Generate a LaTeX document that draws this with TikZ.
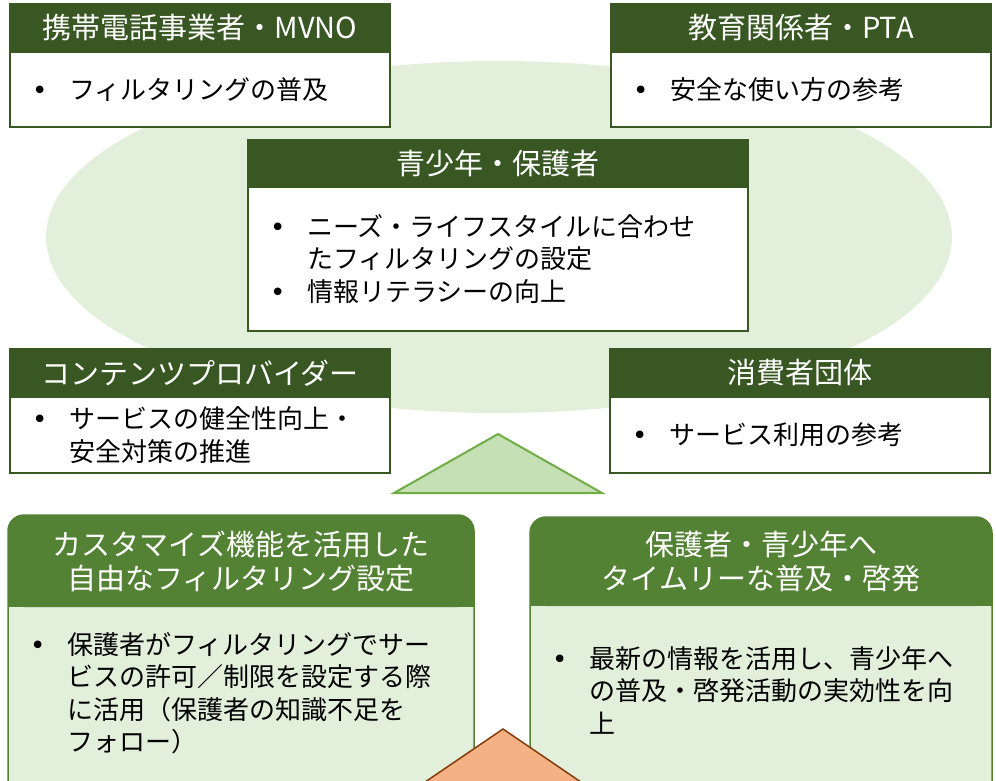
\documentclass[tikz,border=0pt]{standalone}
\usepackage{fontspec}
\setmainfont{Noto Sans CJK JP}
\newfontfamily\bulfont{DejaVu Sans}
\usetikzlibrary{positioning}

\definecolor{hdrdark}{HTML}{385723}
\definecolor{hdrmid}{HTML}{548235}
\definecolor{paleg}{HTML}{E2EFDA}
\definecolor{trifill}{HTML}{C5E0B4}
\definecolor{triline}{HTML}{70AD47}
\definecolor{orfill}{HTML}{F4B183}
\definecolor{orline}{HTML}{843C0C}

\newcommand{\hdrfont}{\fontsize{29pt}{34pt}\selectfont}
\newcommand{\txtfont}{\fontsize{26pt}{32.5pt}\selectfont}
\newcommand{\itm}{\makebox[38pt][l]{\hspace*{1pt}{\bulfont •}}}
\newcommand{\cnt}{\hspace*{38pt}}

\tikzset{
  hdr/.style={fill=hdrdark, draw=hdrdark, line width=1.5pt, text=white, font=\hdrfont,
    inner sep=0pt, outer sep=0pt, minimum height=48pt},
  bodybox/.style={fill=white, draw=hdrdark, line width=1.5pt, font=\txtfont, align=left,
    inner xsep=21pt, inner ysep=0pt, outer sep=0pt},
  lowbox/.style={fill=paleg, draw=hdrmid, line width=1.5pt, rounded corners=16pt,
    inner sep=0pt, outer sep=0pt},
  lowhdr/.style={fill=hdrmid, rounded corners=16pt, text=white, font=\hdrfont, align=center,
    inner sep=0pt, outer sep=0pt},
  lowtxt/.style={font=\txtfont, align=left, inner sep=0pt, anchor=north west}
}

\begin{document}
\begin{tikzpicture}[x=1pt, y=-1pt]
  \useasboundingbox (0,0) rectangle (996,780);
  \clip (0,0) rectangle (996,780);

  % background ellipse
  \fill[paleg] (499,237) ellipse [x radius=453pt, y radius=176pt];

  % actors around the ellipse
  \node[hdr, minimum width=380pt, anchor=north west] (mobile) at (10,4) {携帯電話事業者・MVNO};
  \node[bodybox, text width=338pt, minimum height=75pt, below=0pt of mobile] (mobileB)
    {\itm フィルタリングの普及};

  \node[hdr, minimum width=380pt, anchor=north west] (edu) at (611,4) {教育関係者・PTA};
  \node[bodybox, text width=338pt, minimum height=75pt, below=0pt of edu] (eduB)
    {\itm 安全な使い方の参考};

  \node[hdr, minimum width=500pt, minimum height=47pt, anchor=north west] (youth) at (248,140) {青少年・保護者};
  \node[bodybox, text width=458pt, minimum height=144pt, below=0pt of youth] (youthB)
    {\itm ニーズ・ライフスタイルに合わせ\\
     \cnt たフィルタリングの設定\\
     \itm 情報リテラシーの向上};

  \node[hdr, minimum width=380pt, anchor=north west] (cont) at (10,349) {コンテンツプロバイダー};
  \node[bodybox, text width=338pt, minimum height=76pt, below=0pt of cont] (contB)
    {\itm サービスの健全性向上・\\
     \cnt 安全対策の推進};

  \node[hdr, minimum width=380pt, anchor=north west] (cons) at (610,349) {消費者団体};
  \node[bodybox, text width=338pt, minimum height=76pt, below=0pt of cons] (consB)
    {\itm サービス利用の参考};

  % green triangle
  \filldraw[fill=trifill, draw=triline, line width=2pt]
    (498,434) -- (602,493) -- (394,493) -- cycle;

  % lower left box
  \node[lowbox, minimum width=466pt, minimum height=330pt, anchor=north west] (custB) at (8,515) {};
  \fill[hdrmid] (8,585) rectangle (474,607);
  \node[lowhdr, minimum width=466pt, minimum height=92pt, anchor=north west] (cust) at (8,515)
    {カスタマイズ機能を活用した\\自由なフィルタリング設定};
  \node[lowtxt] (custT) at (29,632)
    {\itm 保護者がフィルタリングでサー\\
     \cnt ビスの許可／制限を設定する際\\
     \cnt に活用（保護者の知識不足を\\
     \cnt フォロー）};

  % lower right box
  \node[lowbox, minimum width=462pt, minimum height=330pt, anchor=north west] (infoB) at (530,517) {};
  \fill[hdrmid] (530,584) rectangle (992,606);
  \node[lowhdr, minimum width=462pt, minimum height=89pt, anchor=north west] (info) at (530,517)
    {保護者・青少年へ\\タイムリーな普及・啓発};
  \node[lowtxt] (infoT) at (551,646)
    {\itm 最新の情報を活用し、青少年へ\\
     \cnt の普及・啓発活動の実効性を向\\
     \cnt 上};

  % orange triangle
  \filldraw[fill=orfill, draw=orline, line width=1.5pt]
    (503,729) -- (650,829) -- (356,829) -- cycle;
\end{tikzpicture}
\end{document}
